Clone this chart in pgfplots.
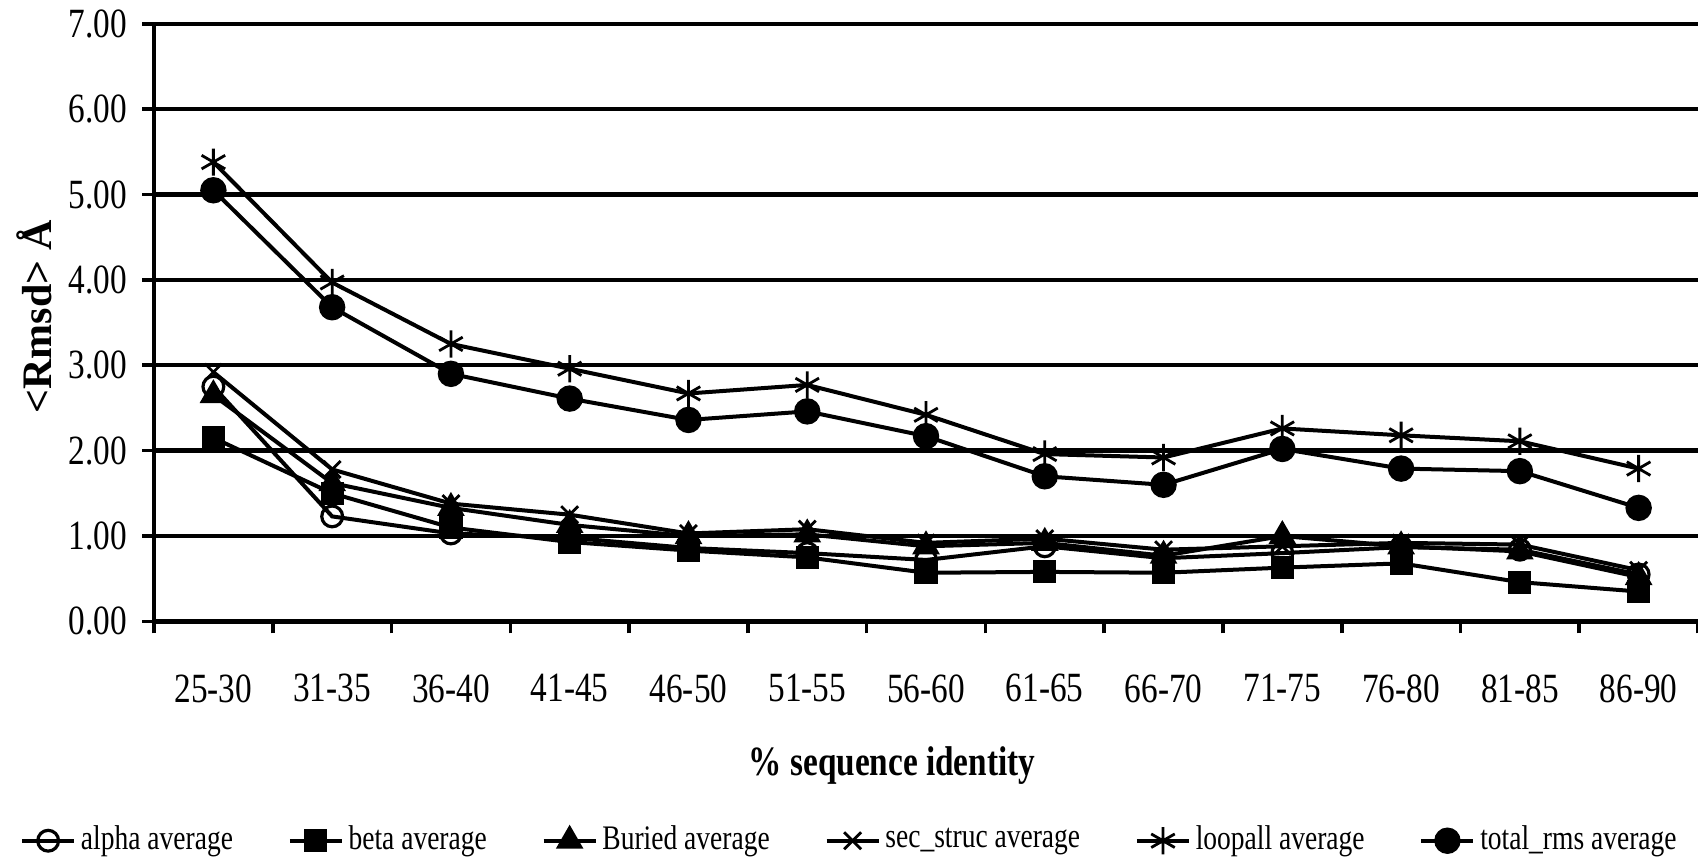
\documentclass[border=0pt]{standalone}
\usepackage{fontspec}
\setmainfont{Liberation Serif}[FakeStretch=0.8]
\newfontfamily\normalserif{Liberation Serif}
\usepackage{pgfplots}
\usepackage{pgfplotstable}
\pgfplotsset{compat=1.18}
\usetikzlibrary{plotmarks}

\pgfplotstableread{
x alpha beta buried sec loop total
0 2.75 2.15 2.65 2.92 5.38 5.05
1 1.23 1.50 1.62 1.78 3.97 3.68
2 1.03 1.10 1.33 1.38 3.25 2.90
3 0.98 0.93 1.13 1.25 2.96 2.61
4 0.86 0.83 1.00 1.03 2.67 2.36
5 0.80 0.75 1.02 1.08 2.77 2.46
6 0.72 0.57 0.88 0.92 2.42 2.17
7 0.88 0.58 0.92 0.97 1.96 1.70
8 0.74 0.57 0.77 0.84 1.92 1.60
9 0.80 0.63 1.00 0.88 2.26 2.02
10 0.87 0.68 0.88 0.92 2.18 1.79
11 0.84 0.46 0.82 0.90 2.11 1.76
12 0.55 0.35 0.52 0.60 1.79 1.33
}\data

\begin{document}
\begin{tikzpicture}
\path[use as bounding box] (-38.5pt,-59.1pt) rectangle (386pt,155.35pt);
\begin{axis}[
  name=ax, at={(0,0)}, anchor=south west,
  scale only axis, width=386pt, height=149.4pt,
  xmin=-0.5, xmax=12.5, ymin=0, ymax=7,
  axis x line*=bottom, axis y line*=left,
  axis line style={line width=1.1pt, -},
  xtick={0,...,12},
  xticklabels={25-30,31-35,36-40,41-45,46-50,51-55,56-60,61-65,66-70,71-75,76-80,81-85,86-90},
  major x tick style={draw=none},
  minor xtick={-0.5,0.5,...,12.5},
  tick align=outside,
  major tick length=3pt, minor tick length=3pt,
  tick style={line width=0.9pt, black},
  ytick={0,...,7},
  yticklabel={\pgfmathprintnumber[fixed,fixed zerofill,precision=2]{\tick}},
  /pgf/number format/assume math mode=true,
  ymajorgrids, grid style={line width=1.1pt, black},
  tick label style={font=\fontsize{10.4}{12}\selectfont},
  xticklabel style={anchor=center, inner sep=0pt, yshift=-13.75pt},
  yticklabel style={anchor=east, inner sep=0pt, xshift=-3.5pt},
  xlabel={\bfseries\% sequence identity},
  xlabel style={at={(axis description cs:0.478,-0.242)}, anchor=center, font=\fontsize{10.4}{12}\selectfont},
  ylabel={\normalserif\bfseries <Rmsd> Å},
  ylabel style={at={(axis description cs:-0.0772,0.51)}, anchor=center, font=\fontsize{10.5}{12}\selectfont},
  every axis plot/.append style={line width=1pt, black, solid},
  legend columns=6,
  legend style={at={(axis description cs:0.4513,-0.367)}, anchor=center, draw=none, fill=none,
    font=\fontsize{8.6}{10}\selectfont, inner sep=0pt,
    /tikz/every even column/.append style={column sep=12.5pt},
    nodes={inner sep=1.2pt}},
  legend image code/.code={\draw[mark repeat=2,mark phase=2,#1] plot coordinates {(0pt,0pt) (6.5pt,0pt) (13pt,0pt)};},
]
\addplot[mark=o, mark size=2.6pt, mark options={fill=white, solid, line width=0.8pt}] table[x=x,y=alpha] {\data};
\addlegendentry{alpha average}
\addplot[mark=square*, mark size=2.4pt, mark options={solid}] table[x=x,y=beta] {\data};
\addlegendentry{beta average}
\addplot[mark=triangle*, mark size=3pt, mark options={solid}] table[x=x,y=buried] {\data};
\addlegendentry{Buried average}
\addplot[mark=x, mark size=3pt, mark options={solid, line width=0.7pt}] table[x=x,y=sec] {\data};
\addlegendentry{sec\_struc average}
\addplot[mark=asterisk, mark size=3.4pt, mark options={solid, line width=0.7pt}] table[x=x,y=loop] {\data};
\addlegendentry{loopall average}
\addplot[mark=*, mark size=2.8pt, mark options={solid}] table[x=x,y=total] {\data};
\addlegendentry{total\_rms average}
\end{axis}
\end{tikzpicture}
\end{document}
